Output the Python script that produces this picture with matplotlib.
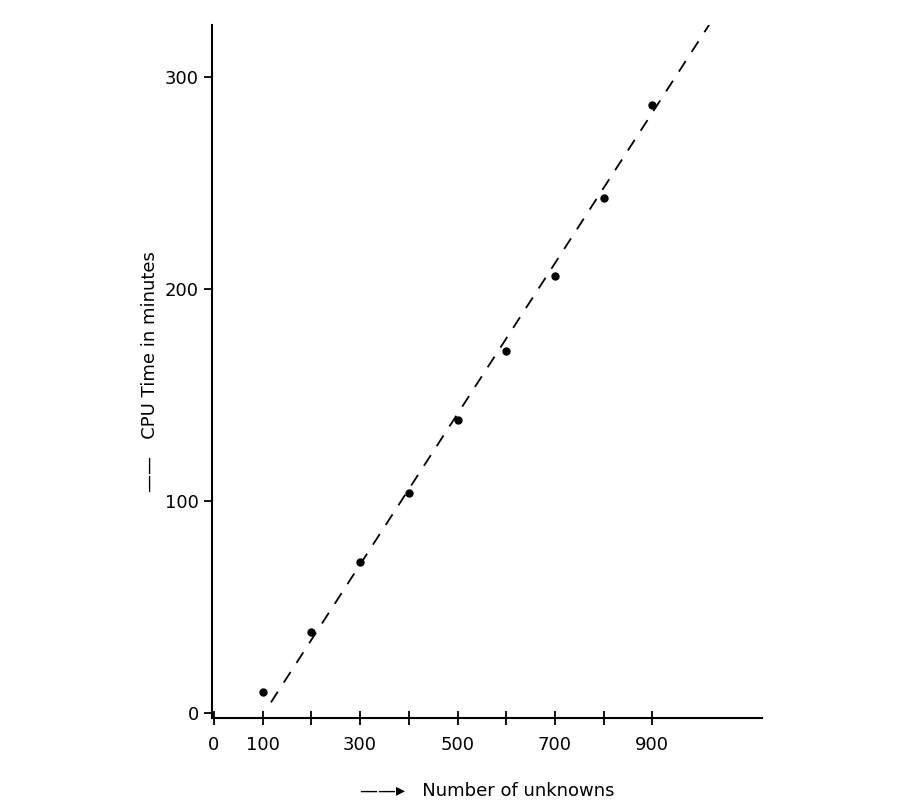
import matplotlib
matplotlib.use("Agg")
import matplotlib.pyplot as plt

unknowns = [100, 200, 300, 400, 500, 600, 700, 800, 900]
cpu_minutes = [10, 38, 71, 104, 138, 171, 206, 243, 287]
fit_x = [117, 1040]
fit_y = [5, 333]
xtick_vals = [0, 100, 300, 500, 700, 900]
xtick_minor = [200, 400, 600, 800]
ytick_vals = [0, 100, 200, 300]

fig = plt.figure(figsize=(9, 8), dpi=100)
ax = fig.add_axes([0.2356, 0.1025, 0.611, 0.866])
ax.plot(unknowns, cpu_minutes, 'o', color='black', markersize=5)
ax.plot(fit_x, fit_y, color='black', lw=1.3, dashes=(7, 6))
ax.set_xlim(-4, 1125)
ax.set_ylim(-2.4, 324.5)
for s in ['top', 'right']:
    ax.spines[s].set_visible(False)
for s in ['left', 'bottom']:
    ax.spines[s].set_linewidth(1.5)
ax.set_xticks(xtick_vals)
ax.set_xticks(xtick_minor, minor=True)
ax.set_yticks(ytick_vals)
ax.tick_params(axis='x', direction='inout', length=10, width=1.3, labelsize=13, pad=8)
ax.tick_params(axis='x', which='minor', direction='inout', length=10, width=1.3)
ax.tick_params(axis='y', direction='out', length=6, width=1.3, labelsize=13)
ax.set_xlabel("\u2014\u2014\u25b8   Number of unknowns", fontsize=13, labelpad=20)
ax.set_ylabel("\u2014\u2014   CPU Time in minutes", fontsize=13, labelpad=4)
fig.savefig("out.png", dpi=100)
